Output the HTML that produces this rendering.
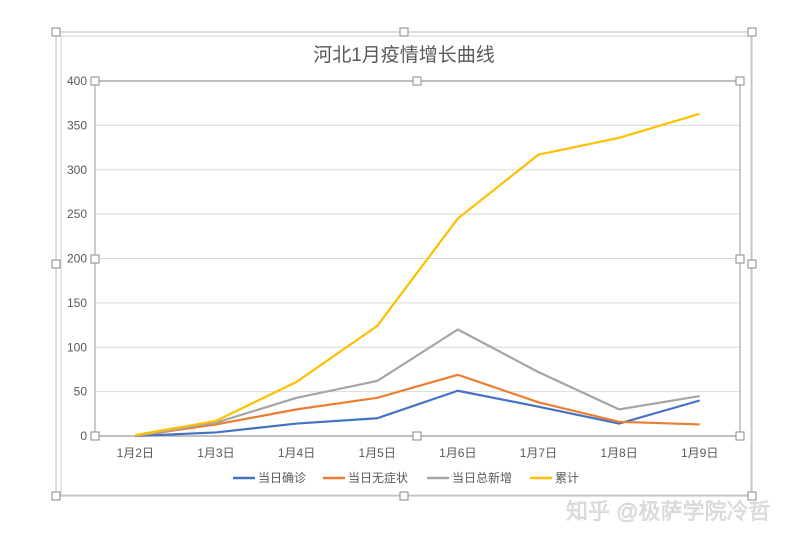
<!DOCTYPE html>
<html><head><meta charset="utf-8"><style>
body{margin:0;background:#fff;width:801px;height:540px;overflow:hidden;font-family:"Liberation Sans","Noto Sans CJK SC",sans-serif}
</style></head><body>
<svg id="c" width="801" height="540" xmlns="http://www.w3.org/2000/svg" style="position:absolute;left:0;top:0">
<rect x="56" y="32" width="696" height="464" fill="none" stroke="#bbb" stroke-width="1"/>
<rect x="61" y="36" width="690" height="459" fill="none" stroke="#d0d0d0" stroke-width="1"/>
<text x="404" y="61" text-anchor="middle" font-size="19" fill="#595959" font-family="Liberation Sans,Noto Sans CJK SC,sans-serif">河北1月疫情增长曲线</text>
<g id="grid"></g><g id="series"></g><g id="handles"></g>
<g font-size="12" fill="#595959">
<line x1="233" y1="478" x2="255" y2="478" stroke="#4472c4" stroke-width="2.5"/><text x="258" y="482">当日确诊</text>
<line x1="323" y1="478" x2="345" y2="478" stroke="#ed7d31" stroke-width="2.5"/><text x="348" y="482">当日无症状</text>
<line x1="427" y1="478" x2="449" y2="478" stroke="#a5a5a5" stroke-width="2.5"/><text x="452" y="482">当日总新增</text>
<line x1="530" y1="478" x2="552" y2="478" stroke="#ffc000" stroke-width="2.5"/><text x="555" y="482">累计</text>
</g>
<text x="566" y="519" font-size="22" fill="#e0e0e0" stroke="#c8c8c8" stroke-width="0.4">知乎 @极萨学院冷哲</text>
</svg>
<script>
const categories=["1月2日","1月3日","1月4日","1月5日","1月6日","1月7日","1月8日","1月9日"];
const confirmed=[0,4,14,20,51,33,14,40];
const asymptomatic=[0,13,30,43,69,38,16,13];
const totalNew=[0,15,43,62,120,72,30,45];
const cumulative=[1,17,61,124,245,317,336,363];
const yTicks=[0,50,100,150,200,250,300,350,400];
const NS="http://www.w3.org/2000/svg";
const L=95,R=740,T=81,B=436,yMax=400;
const xs=i=>L+(R-L)/categories.length*(i+0.5);
const ys=v=>B-(B-T)*v/yMax;
function mk(t,a,p){const e=document.createElementNS(NS,t);for(const k in a)e.setAttribute(k,a[k]);p.appendChild(e);return e;}
const g=document.getElementById('grid');
yTicks.forEach(v=>{
 const l=mk('line',{x1:L,x2:R,y1:ys(v),y2:ys(v),stroke:v===0||v===400?'#999':'#d9d9d9','stroke-width':v===0||v===400?1.2:1},g);
 
 
 const t=mk('text',{x:L-8,y:ys(v)+4,'text-anchor':'end','font-size':12,fill:'#595959'},g);t.textContent=v;
 
 
});
mk('line',{x1:L,x2:L,y1:T,y2:B,stroke:'#999'},g);
mk('line',{x1:R,x2:R,y1:T,y2:B,stroke:'#999'},g);
categories.forEach((c,i)=>{const t=mk('text',{x:xs(i),y:B+21,'text-anchor':'middle','font-size':12,fill:'#595959'},g);t.textContent=c;
 
 });
const s=document.getElementById('series');
[[confirmed,'#4472c4','line-confirmed'],[asymptomatic,'#ed7d31','line-asymptomatic'],[totalNew,'#a5a5a5','line-total-new'],[cumulative,'#ffc000','line-cumulative']].forEach(([d,col,n])=>{
 const p=mk('polyline',{points:d.map((v,i)=>xs(i)+','+ys(v)).join(' '),fill:'none',stroke:col,'stroke-width':2.2,'stroke-linejoin':'round'},s);
 
 
});
const h=document.getElementById('handles');
[[56,32],[404,32],[752,32],[56,264],[752,264],[56,496],[404,496],[752,496],[L,T],[417,T],[R,T],[L,259],[R,259],[L,B],[417,B],[R,B]].forEach(([x,y])=>{
 const r=mk('rect',{x:x-4,y:y-4,width:8,height:8,fill:'#fff',stroke:'#888'},h);
 
 
});
</script>
</body></html>
